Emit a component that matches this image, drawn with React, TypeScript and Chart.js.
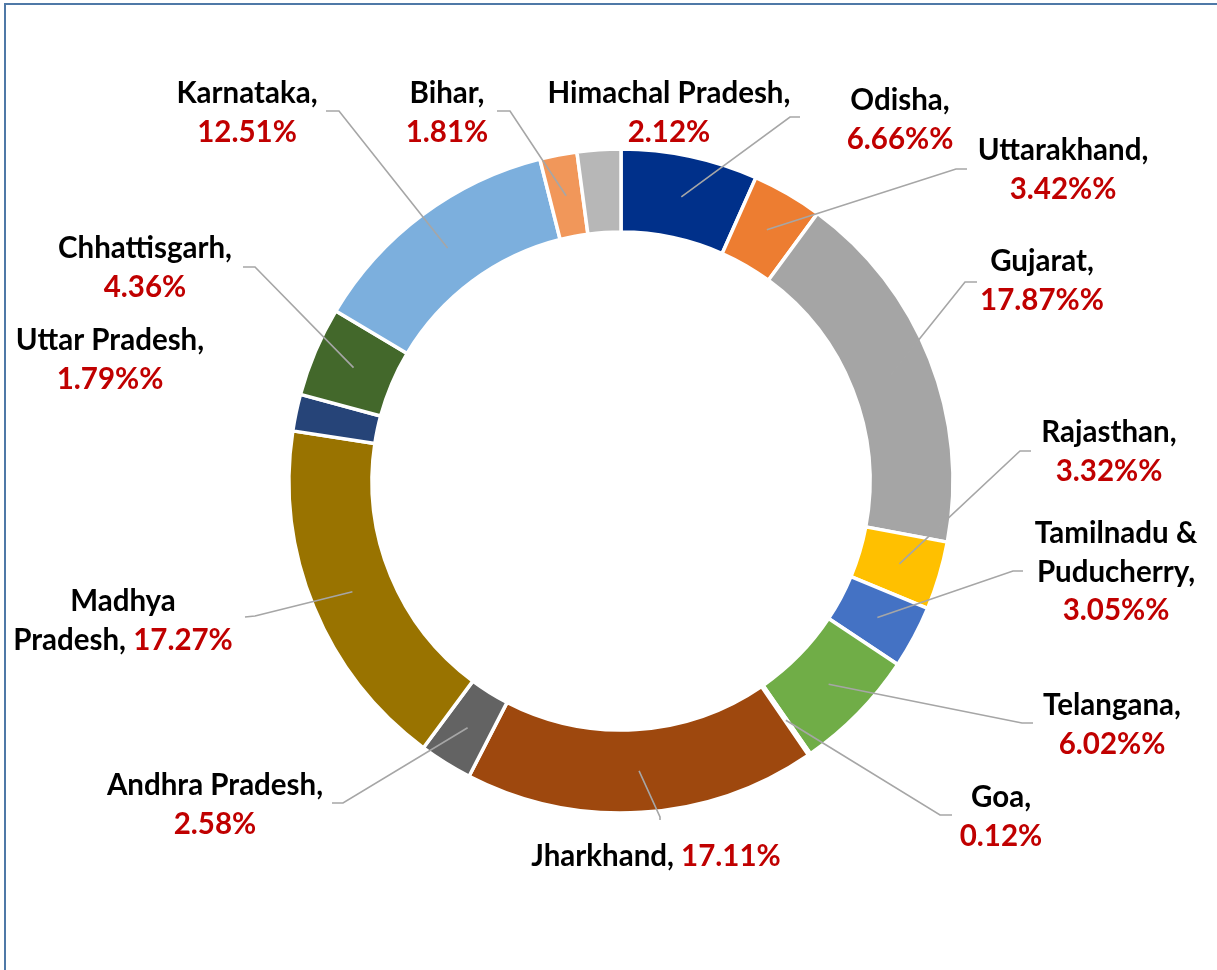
import React, { useEffect, useRef } from "react";
import { Chart, registerables } from "chart.js";

Chart.register(...registerables);

// ---- data ----
const categories = [
  "Odisha",
  "Uttarakhand",
  "Gujarat",
  "Rajasthan",
  "Tamilnadu & Puducherry",
  "Telangana",
  "Goa",
  "Jharkhand",
  "Andhra Pradesh",
  "Madhya Pradesh",
  "Uttar Pradesh",
  "Chhattisgarh",
  "Karnataka",
  "Bihar",
  "Himachal Pradesh",
];
const shares = [6.66, 3.42, 17.87, 3.32, 3.05, 6.02, 0.12, 17.11, 2.58, 17.27, 1.79, 4.36, 12.51, 1.81, 2.12];
const valueLabels = [
  "6.66%%",
  "3.42%%",
  "17.87%%",
  "3.32%%",
  "3.05%%",
  "6.02%%",
  "0.12%",
  "17.11%",
  "2.58%",
  "17.27%",
  "1.79%%",
  "4.36%",
  "12.51%",
  "1.81%",
  "2.12%",
];
const sliceColors = [
  "#00308A",
  "#ED7D31",
  "#A5A5A5",
  "#FFC000",
  "#4472C4",
  "#70AD47",
  "#255E91",
  "#9E480E",
  "#636363",
  "#997300",
  "#264478",
  "#43682B",
  "#7CAFDD",
  "#F1975A",
  "#B7B7B7",
];

// ---- label layout (manual placement, like the original) ----
type Lay = {
  cx: number;
  base: number;
  nameBreak?: number;
  inline?: boolean;
  lead?: { pts: number[]; to: number };
};
const layout: Lay[] = [
  { cx: 900, base: 110 },
  { cx: 1063, base: 160, lead: { pts: [967, 169, 956, 169], to: 1 } },
  { cx: 1042, base: 271, lead: { pts: [977, 282, 965, 282], to: 2 } },
  { cx: 1109, base: 442, lead: { pts: [1031, 451, 1020, 451], to: 3 } },
  { cx: 1116, base: 543, nameBreak: 2, lead: { pts: [1023, 571, 1013, 571], to: 4 } },
  { cx: 1112, base: 715, lead: { pts: [1033, 723, 1022, 723], to: 5 } },
  { cx: 1001, base: 807, lead: { pts: [952, 815, 940, 815], to: 6 } },
  { cx: 656, base: 866, inline: true, lead: { pts: [660, 820, 660, 817], to: 7 } },
  { cx: 215, base: 795, lead: { pts: [332, 803, 343, 803], to: 8 } },
  { cx: 123, base: 611, nameBreak: 1, inline: true, lead: { pts: [245, 617, 255, 616], to: 9 } },
  { cx: 110, base: 350 },
  { cx: 145, base: 258, lead: { pts: [243, 267, 255, 267], to: 11 } },
  { cx: 247, base: 103, lead: { pts: [326, 111, 339, 111], to: 12 } },
  { cx: 447, base: 103, lead: { pts: [497, 111, 510, 111], to: 13 } },
  { cx: 669, base: 103, lead: { pts: [800, 117, 790, 117], to: 0 } },
];

const FONT = "bold 29.5px Lato, 'Noto Sans', sans-serif";
const LINE_H = 38.5;
const NAME_COLOR = "#000000";
const VALUE_COLOR = "#C00000";
const LEADER_COLOR = "#A6A6A6";
const FRAME_COLOR = "#4F79A7";

type Seg = { t: string; c: string };

function buildLines(i: number): Seg[][] {
  const l = layout[i];
  const words = categories[i].split(" ");
  const nameLines: string[] = [];
  if (l.nameBreak) {
    nameLines.push(words.slice(0, l.nameBreak).join(" "));
    nameLines.push(words.slice(l.nameBreak).join(" "));
  } else {
    nameLines.push(words.join(" "));
  }
  nameLines[nameLines.length - 1] += ",";
  const lines: Seg[][] = nameLines.map((t) => [{ t, c: NAME_COLOR }]);
  if (l.inline) {
    lines[lines.length - 1].push({ t: " " + valueLabels[i], c: VALUE_COLOR });
  } else {
    lines.push([{ t: valueLabels[i], c: VALUE_COLOR }]);
  }
  return lines;
}

const framePlugin = {
  id: "frame",
  beforeDraw(chart: any) {
    const ctx = chart.ctx;
    ctx.save();
    ctx.fillStyle = "#ffffff";
    ctx.fillRect(0, 0, chart.width, chart.height);
    ctx.fillStyle = FRAME_COLOR;
    ctx.fillRect(4, 3, chart.width, 2);
    ctx.fillRect(4, 3, 2, chart.height);
    ctx.restore();
  },
};

const labelPlugin = {
  id: "outerLabels",
  afterDatasetsDraw(chart: any) {
    const ctx = chart.ctx;
    const meta = chart.getDatasetMeta(0);
    ctx.save();
    ctx.strokeStyle = LEADER_COLOR;
    ctx.lineWidth = 1.6;
    layout.forEach((l) => {
      if (!l.lead) return;
      const arc = meta.data[l.lead.to];
      const p = arc.getProps(["x", "y", "startAngle", "endAngle", "innerRadius", "outerRadius"], true);
      const a = (p.startAngle + p.endAngle) / 2;
      const r = (p.innerRadius + p.outerRadius) / 2;
      const tx = p.x + Math.cos(a) * r;
      const ty = p.y + Math.sin(a) * r;
      const [sx, sy, ex, ey] = l.lead.pts;
      ctx.beginPath();
      ctx.moveTo(sx, sy);
      ctx.lineTo(ex, ey);
      ctx.lineTo(tx, ty);
      ctx.stroke();
    });
    ctx.font = FONT;
    ctx.textBaseline = "alphabetic";
    ctx.textAlign = "left";
    layout.forEach((l, i) => {
      const lines = buildLines(i);
      lines.forEach((segs, k) => {
        const total = segs.reduce((s, g) => s + ctx.measureText(g.t).width, 0);
        let x = l.cx - total / 2;
        const y = l.base + k * LINE_H;
        segs.forEach((g) => {
          ctx.fillStyle = g.c;
          ctx.fillText(g.t, x, y);
          x += ctx.measureText(g.t).width;
        });
      });
    });
    ctx.restore();
  },
};

export default function App() {
  const ref = useRef<HTMLCanvasElement>(null);
  useEffect(() => {
    if (!ref.current) return;
    const chart = new Chart(ref.current, {
      type: "doughnut",
      data: {
        labels: categories,
        datasets: [
          {
            data: shares,
            backgroundColor: sliceColors,
            borderColor: "#ffffff",
            borderWidth: 3.5,
          },
        ],
      },
      options: {
        responsive: false,
        animation: false,
        radius: 332,
        cutout: "75%",
        layout: { padding: { left: 25, right: 0, top: 0, bottom: 8 } },
        plugins: {
          legend: { display: false },
          tooltip: { enabled: false },
        },
      },
      plugins: [framePlugin, labelPlugin],
    });
    return () => chart.destroy();
  }, []);
  return (
    <div style={{ position: "absolute", left: 0, top: 0, width: 1217, height: 970, background: "#fff" }}>
      <canvas ref={ref} width={1217} height={970} style={{ display: "block" }} />
    </div>
  );
}
